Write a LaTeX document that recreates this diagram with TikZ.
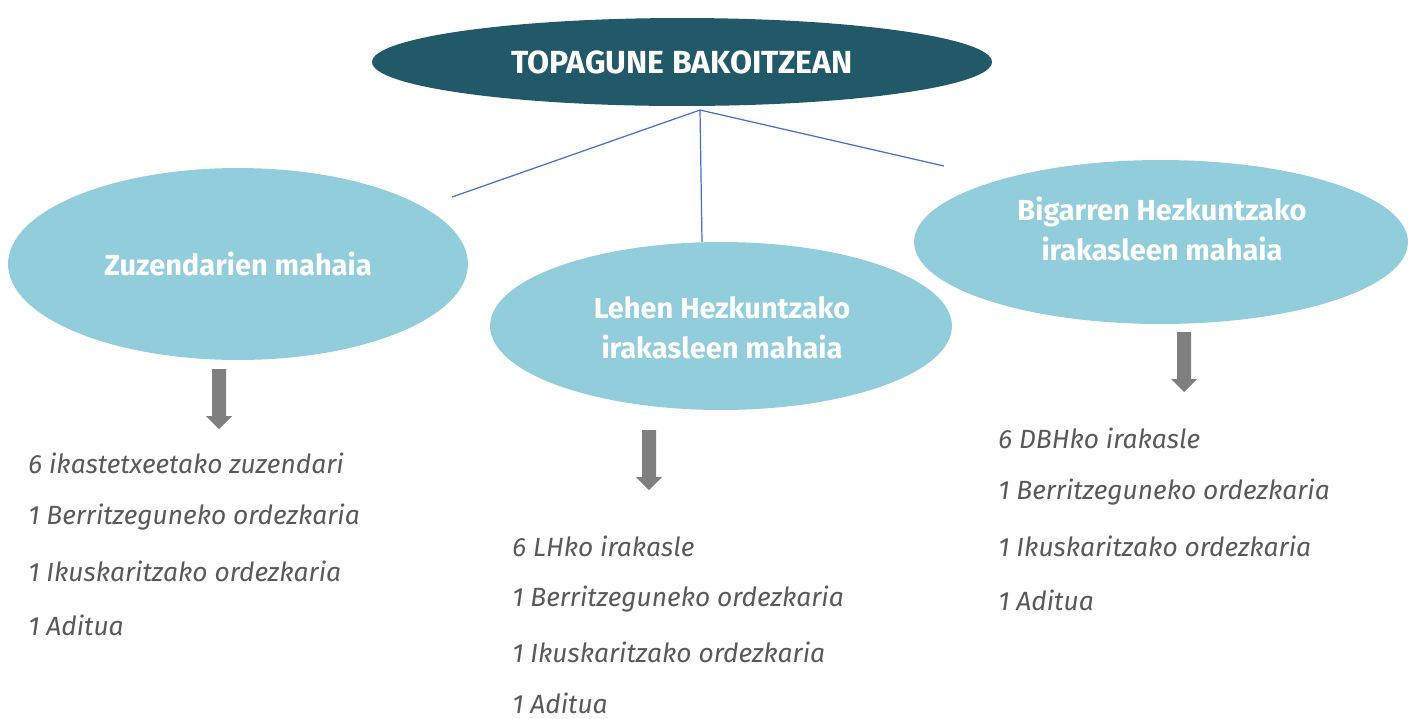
\documentclass[tikz,border=0pt]{standalone}
\usepackage{fontspec}
\setmainfont{Fira Sans}
\usepackage{tikz}

\definecolor{darkteal}{HTML}{215968}
\definecolor{lightblue}{HTML}{92CDDC}
\definecolor{linkblue}{HTML}{4472C4}
\definecolor{textgray}{HTML}{595959}
\definecolor{arrowgray}{HTML}{7F7F7F}

\usetikzlibrary{shapes.geometric}

\tikzset{
	mahai/.style={ellipse,fill=lightblue,inner sep=0pt},
	mahaitext/.style={text=white,font=\fontsize{16.5}{22.7}\selectfont\bfseries,align=center},
	kide/.style={anchor=west,text=textgray,font=\fontsize{15}{18}\selectfont\itshape,inner sep=0pt},
	lotura/.style={draw=linkblue,line width=0.7pt}
}

\begin{document}
\begin{tikzpicture}[x=0.02cm,y=-0.02cm]
	\useasboundingbox (0,0) rectangle (1408,718);

	\node[ellipse,fill=darkteal,minimum width=12.4cm,minimum height=1.76cm,
		text=white,font=\fontsize{18.2}{20}\selectfont\bfseries] (topagune) at (682,62) {TOPAGUNE BAKOITZEAN};

	\node[mahai,minimum width=9.2cm,minimum height=3.84cm] (zuzen) at (238,264) {};
	\node[mahai,minimum width=9.24cm,minimum height=3.36cm] (lehen) at (721,326) {};
	\node[mahai,minimum width=9.88cm,minimum height=3.28cm] (bigarren) at (1161,242) {};

	\node[mahaitext] (zuzentxt) at (238,264) {Zuzendarien mahaia};
	\node[mahaitext] (lehentxt) at (722,328) {Lehen Hezkuntzako\\irakasleen mahaia};
	\node[mahaitext] (bigarrentxt) at (1162,229) {Bigarren Hezkuntzako\\irakasleen mahaia};

	% lines from the top ellipse
	\coordinate (hub) at (700,110);
	\coordinate (zuzenend) at (452,197);
	\coordinate (lehenend) at (702,242);
	\coordinate (bigarrenend) at (944,166);
	\draw[lotura] (hub) -- (zuzenend);
	\draw[lotura] (hub) -- (lehenend);
	\draw[lotura] (hub) -- (bigarrenend);

	% block arrows
	\foreach \x/\y in {219/369, 649/430, 1184/332}
		\fill[arrowgray] (\x-7,\y) -- (\x+7,\y) -- (\x+7,\y+47) -- (\x+13,\y+47)
			-- (\x,\y+60) -- (\x-13,\y+47) -- (\x-7,\y+47) -- cycle;

	% members
	\node[kide] (z1) at (28,463) {6 ikastetxeetako zuzendari};
	\node[kide] (z2) at (28,517) {1 Berritzeguneko ordezkaria};
	\node[kide] (z3) at (28,571) {1 Ikuskaritzako ordezkaria};
	\node[kide] (z4) at (28,625) {1 Aditua};

	\node[kide] (l1) at (512,546) {6 LHko irakasle};
	\node[kide] (l2) at (512,599) {1 Berritzeguneko ordezkaria};
	\node[kide] (l3) at (512,652) {1 Ikuskaritzako ordezkaria};
	\node[kide] (l4) at (512,703) {1 Aditua};

	\node[kide] (b1) at (998,438) {6 DBHko irakasle};
	\node[kide] (b2) at (998,492) {1 Berritzeguneko ordezkaria};
	\node[kide] (b3) at (998,546) {1 Ikuskaritzako ordezkaria};
	\node[kide] (b4) at (998,600) {1 Aditua};
\end{tikzpicture}
\end{document}
